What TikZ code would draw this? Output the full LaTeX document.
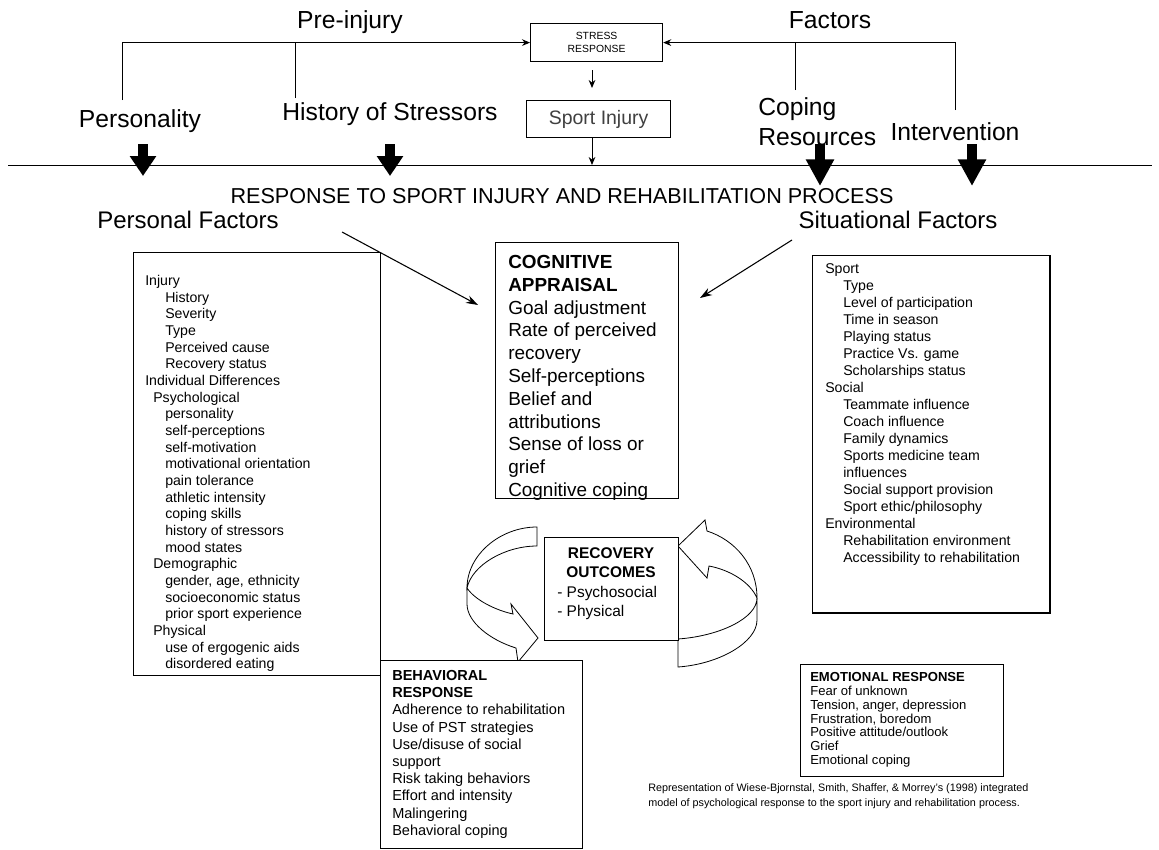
\documentclass[tikz,border=0pt]{standalone}
\usepackage{fontspec}
\setmainfont{Liberation Sans}
\usetikzlibrary{arrows.meta}

\tikzstyle{heading} = [inner sep=0, font=\fontsize{18.5}{22}\selectfont]
\tikzstyle{factor} = [inner sep=0, font=\fontsize{18}{21}\selectfont]
\tikzstyle{box} = [rectangle, draw=black, line width=0.9pt, anchor=north west,
inner sep=0, fill=white]
\tikzstyle{listtext} = [anchor=north west, align=left, inner sep=0]
\tikzstyle{arrow} = [line width=0.7pt, -{Stealth[length=6pt,width=5pt]}]
\tikzstyle{diag} = [line width=0.8pt, -{Stealth[length=9pt,width=6pt]}]
\tikzstyle{bigarrow} = [line width=8pt, -{Triangle[width=19pt,length=15pt]}]
\tikzstyle{bigarrowr} = [line width=8pt, -{Triangle[width=20pt,length=20pt]}]
\tikzstyle{line} = [line width=0.7pt]
\tikzstyle{ribbon} = [draw=black, line width=0.6pt, fill=white]
\newcommand{\indt}[1]{\hspace*{#1pt}}

\begin{document}
\begin{tikzpicture}[x=0.75pt, y=-0.75pt]
    \useasboundingbox (0,0) rectangle (1159,849);

    % pre-injury factors
    \node (pre) [heading] at (350,22) {Pre-injury};
    \node (fac) [heading] at (830,20) {Factors};
    \node (stress) [box, minimum width=99pt, minimum height=28.5pt, align=center,
        font=\fontsize{7.8}{9.8}\selectfont] at (530,23) {STRESS\\RESPONSE};
    \node (sport) [box, minimum width=108pt, minimum height=27.75pt, text=black!75,
        font=\fontsize{14.6}{17}\selectfont] at (526,100) {Sport Injury};
    \node (pers) [heading] at (140,121) {Personality};
    \node (hist) [heading] at (390,114) {History of Stressors};
    \node (cope) [heading, align=left, anchor=west,
        font=\fontsize{18.5}{22.5}\selectfont] at (758,122) {Coping\\Resources};
    \node (inter) [heading] at (955,132) {Intervention};

    \coordinate (tl1) at (122,100);
    \coordinate (tl2) at (295,98);
    \coordinate (tr1) at (795,90);
    \coordinate (tr2) at (955,110);
    \coordinate (sx) at (592,0);
    \coordinate (bl) at (8,165);
    \coordinate (br) at (1152,165);

    \draw [arrow] (tl1) |- (stress.west);
    \draw [line] (tl2) -- (tl2 |- stress.west);
    \draw [arrow] (tr2) |- (stress.east);
    \draw [line] (tr1) -- (tr1 |- stress.east);
    \draw [arrow, shorten <=6pt, shorten >=9pt] (stress.south -| sx) -- (sport.north -| sx);
    \draw [arrow] (sport.south -| sx) -- (bl -| sx);
    \draw [line] (bl) -- (br);

    % big arrows onto the line
    \draw [bigarrow] (143,144) -- (143,176);
    \draw [bigarrow] (390,144) -- (390,176);
    \draw [bigarrowr] (820,144) -- (820,186);
    \draw [bigarrowr] (972,144) -- (972,186);

    % response process
    \node (resp) [inner sep=0, font=\fontsize{16.2}{19}\selectfont] at (562,196)
        {RESPONSE TO SPORT INJURY AND REHABILITATION PROCESS};
    \node (persf) [factor] at (188,220) {Personal Factors};
    \node (sitf) [factor] at (898,220) {Situational Factors};

    \node (pbox) [box, minimum width=185pt, minimum height=317.25pt] at (133,252) {};
    \node (plist) [listtext, font=\fontsize{10.6}{12.5}\selectfont] at (145,275) {
        Injury\\
        \indt{15}History\\
        \indt{15}Severity\\
        \indt{15}Type\\
        \indt{15}Perceived cause\\
        \indt{15}Recovery status\\
        Individual Differences\\
        \indt{6}Psychological\\
        \indt{15}personality\\
        \indt{15}self-perceptions\\
        \indt{15}self-motivation\\
        \indt{15}motivational orientation\\
        \indt{15}pain tolerance\\
        \indt{15}athletic intensity\\
        \indt{15}coping skills\\
        \indt{15}history of stressors\\
        \indt{15}mood states\\
        \indt{6}Demographic\\
        \indt{15}gender, age, ethnicity\\
        \indt{15}socioeconomic status\\
        \indt{15}prior sport experience\\
        \indt{6}Physical\\
        \indt{15}use of ergogenic aids\\
        \indt{15}disordered eating};

    \node (cbox) [box, minimum width=137.25pt, minimum height=192pt] at (495,242) {};
    \node (clist) [listtext, font=\fontsize{14.2}{17.1}\selectfont] at (508,255) {
        \textbf{COGNITIVE}\\
        \textbf{APPRAISAL}\\
        Goal adjustment\\
        Rate of perceived\\
        recovery\\
        Self-perceptions\\
        Belief and\\
        attributions\\
        Sense of loss or\\
        grief\\
        Cognitive coping};

    \node (sbox) [box, minimum width=178pt, minimum height=268pt] at (812,255) {};
    \node (slist) [listtext, font=\fontsize{10.6}{12.75}\selectfont] at (825,263) {
        Sport\\
        \indt{13.5}Type\\
        \indt{13.5}Level of participation\\
        \indt{13.5}Time in season\\
        \indt{13.5}Playing status\\
        \indt{13.5}Practice Vs. game\\
        \indt{13.5}Scholarships status\\
        Social\\
        \indt{13.5}Teammate influence\\
        \indt{13.5}Coach influence\\
        \indt{13.5}Family dynamics\\
        \indt{13.5}Sports medicine team\\
        \indt{13.5}influences\\
        \indt{13.5}Social support provision\\
        \indt{13.5}Sport ethic/philosophy\\
        Environmental\\
        \indt{13.5}Rehabilitation environment\\
        \indt{13.5}Accessibility to rehabilitation};

    \coordinate (la1) at (342,232);
    \coordinate (la2) at (478,305);
    \coordinate (ra1) at (792,240);
    \coordinate (ra2) at (700,298);
    \draw [diag] (la1) -- (la2);
    \draw [diag] (ra1) -- (ra2);

    % recovery loop
    \draw [ribbon] (537,527) .. controls (500,527) and (467,555) .. (467,588)
        .. controls (472,565) and (505,546) .. (537,546) -- cycle;
    \draw [ribbon] (467,588) .. controls (475,600) and (495,610) .. (513,614)
        -- (511,604) -- (538,638) -- (518,662) -- (516,648)
        .. controls (490,640) and (467,622) .. (467,604) -- cycle;
    \draw [ribbon] (757,598) .. controls (757,565) and (735,540) .. (707,531)
        -- (705,520) -- (678,546) -- (707,578) -- (709,566)
        .. controls (730,570) and (750,582) .. (757,598) -- cycle;
    \draw [ribbon] (678,639) .. controls (720,636) and (757,618) .. (757,598)
        -- (757,620) .. controls (757,642) and (720,664) .. (678,667) -- cycle;

    \node (rbox) [box, minimum width=100.5pt, minimum height=77.25pt] at (544,537) {};
    \node (rhead) [inner sep=0, align=center, anchor=north,
        font=\bfseries\fontsize{11.6}{14.5}\selectfont] at (611,547) {RECOVERY\\OUTCOMES};
    \node (rlist) [listtext, font=\fontsize{11.6}{14.5}\selectfont] at (557,586)
        {- Psychosocial\\- Physical};

    \node (bbox) [box, minimum width=151.5pt, minimum height=141pt] at (380,660) {};
    \node (blist) [listtext, font=\fontsize{10.9}{12.9}\selectfont] at (392,670) {
        \textbf{BEHAVIORAL}\\
        \textbf{RESPONSE}\\
        Adherence to rehabilitation\\
        Use of PST strategies\\
        Use/disuse of social\\
        support\\
        Risk taking behaviors\\
        Effort and intensity\\
        Malingering\\
        Behavioral coping};

    \node (ebox) [box, minimum width=152pt, minimum height=84pt] at (800,664) {};
    \node (elist) [listtext, font=\fontsize{9.8}{10.4}\selectfont] at (810,672) {
        \textbf{EMOTIONAL RESPONSE}\\
        Fear of unknown\\
        Tension, anger, depression\\
        Frustration, boredom\\
        Positive attitude/outlook\\
        Grief\\
        Emotional coping};

    \node (caption) [listtext, font=\fontsize{8.1}{11.25}\selectfont] at (648,783) {
        Representation of Wiese-Bjornstal, Smith, Shaffer, \& Morrey's (1998) integrated\\
        model of psychological response to the sport injury and rehabilitation process.};
\end{tikzpicture}
\end{document}
